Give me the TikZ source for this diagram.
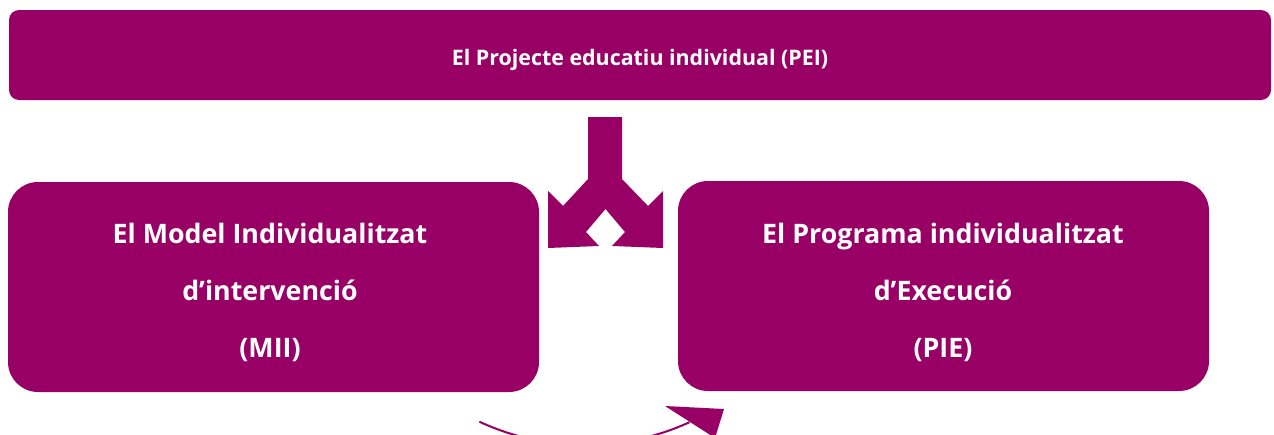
\documentclass[tikz,border=0pt]{standalone}
\usepackage{fontspec}
\setmainfont{Open Sans}
\usetikzlibrary{calc}
\definecolor{plum}{HTML}{990066}
\begin{document}
\begin{tikzpicture}[x=1pt,y=-1pt,
  box/.style={fill=plum,draw=none,rounded corners=#1},
  lbl/.style={text=white,font=\bfseries\fontsize{26.8}{57}\selectfont,align=center},
  toplbl/.style={text=white,font=\bfseries\fontsize{21.4}{24}\selectfont}]
\useasboundingbox (0,0) rectangle (1274,434);
\clip (0,0) rectangle (1274,434);
% top box
\fill[box=10] (9,10) rectangle (1271,100);
\node[toplbl] (pei) at (640,60) {El Projecte educatiu individual (PEI)};
% left and right boxes
\fill[box=30] (8,182) rectangle (539,392);
\fill[box=30] (678,181) rectangle (1209,391);
\node[lbl] (mii) at (270,292) {El Model Individualitzat\\d’intervenció\\(MII)};
\node[lbl] (pie) at (943,292) {El Programa individualitzat\\d’Execució\\(PIE)};
% split arrow
\fill[plum] (588,117) -- (622,117) -- (622,179) -- (648,206) -- (663,191)
  -- (663,248) -- (612,246) -- (625,232) -- (605.5,209) -- (586,232)
  -- (599,246) -- (548,248) -- (548,191) -- (563,206) -- (588,179) -- cycle;
% cycle arc
\coordinate (c) at (585,194);
\draw[plum,line width=2] ($(c)+(114.9:251)$) arc[start angle=114.9,end angle=65.4,radius=251];
\fill[plum] (724,409) -- (665,406) -- (715,438) -- cycle;
\end{tikzpicture}
\end{document}
